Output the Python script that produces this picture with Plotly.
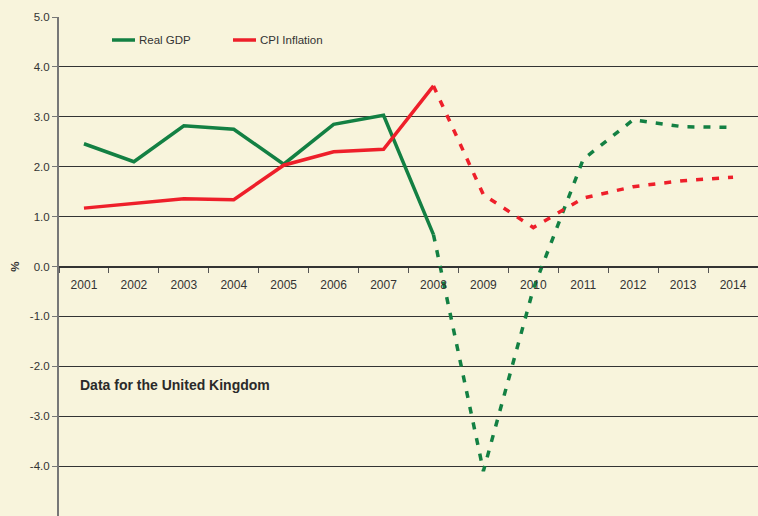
import plotly.graph_objects as go

years = ["2001", "2002", "2003", "2004", "2005", "2006", "2007",
         "2008", "2009", "2010", "2011", "2012", "2013", "2014"]
real_gdp = [2.46, 2.10, 2.82, 2.75, 2.05, 2.85, 3.03,
            0.64, -4.10, -0.45, 2.15, 2.94, 2.80, 2.79]
cpi_inflation = [1.17, 1.27, 1.36, 1.34, 2.03, 2.30, 2.35,
                 3.62, 1.44, 0.78, 1.37, 1.60, 1.72, 1.79]
actual_end = 8  # 2001-2008 actual (solid), 2008-2014 forecast (dashed)
y_ticks = [5, 4, 3, 2, 1, 0, -1, -2, -3, -4, -5]
y_tick_text = ["5.0", "4.0", "3.0", "2.0", "1.0", "0.0", "-1.0", "-2.0", "-3.0", "-4.0", "-5.0"]

GREEN = "#138043"
RED = "#EE1F2A"
BG = "#F8F4DC"
FONT = "Liberation Sans, Arial, sans-serif"

fig = go.Figure()
for name, vals, col in [("Real GDP", real_gdp, GREEN), ("CPI Inflation", cpi_inflation, RED)]:
    fig.add_trace(go.Scatter(x=years[:actual_end], y=vals[:actual_end], mode="lines",
                             line=dict(color=col, width=3.5), name=name,
                             showlegend=False, hoverinfo="skip"))
    fig.add_trace(go.Scatter(x=years[actual_end - 1:], y=vals[actual_end - 1:], mode="lines",
                             line=dict(color=col, width=3.5, dash="7px,9px"), name=name,
                             showlegend=False, hoverinfo="skip"))

# manual legend
def px_x(p):
    return (p - 59) / 699.0

def px_y(p):
    return (516 - p) / 499.0

legend_items = [("Real GDP", GREEN, 112, 135, 137), ("CPI Inflation", RED, 233, 256, 258)]
for label, col, x0, x1, xt in legend_items:
    fig.add_shape(type="line", xref="paper", yref="paper",
                  x0=px_x(x0), x1=px_x(x1), y0=px_y(40), y1=px_y(40),
                  line=dict(color=col, width=3.5))
    fig.add_annotation(xref="paper", yref="paper", x=px_x(xt), y=px_y(40),
                       text=label, showarrow=False, xanchor="left", yanchor="middle",
                       font=dict(family=FONT, size=11.5, color="#333333"))

fig.add_annotation(xref="paper", yref="y", x=px_x(78), y=-2.38,
                   text="<b>Data for the United Kingdom</b>", showarrow=False,
                   xanchor="left", yanchor="middle",
                   font=dict(family=FONT, size=14, color="#2a2a2a"))

fig.update_layout(
    width=758, height=516,
    margin=dict(l=59, r=0, t=17, b=0),
    paper_bgcolor=BG, plot_bgcolor=BG,
    font=dict(family=FONT, size=11.5, color="#333333"),
    showlegend=False,
    xaxis=dict(type="category", range=[-0.5, 13.5], anchor="free", position=0.5,
               showline=True, linecolor="#333333", linewidth=1,
               ticks="outside", tickson="boundaries", ticklen=5, tickcolor="#555555",
               ticklabelstandoff=7,
               showgrid=False, zeroline=False,
               tickfont=dict(family=FONT, size=12, color="#333333"),
               fixedrange=True),
    yaxis=dict(range=[-5, 5], tickvals=y_ticks, ticktext=y_tick_text,
               showgrid=True, gridcolor="#333333", gridwidth=1,
               zeroline=True, zerolinecolor="#333333", zerolinewidth=1,
               showline=True, linecolor="#777777", linewidth=2,
               ticks="outside", ticklen=5, tickcolor="#777777",
               tickfont=dict(family=FONT, size=11.5, color="#333333"),
               title=dict(text="<b>%</b>", standoff=8,
                          font=dict(family=FONT, size=11.5, color="#333333")),
               fixedrange=True),
)

post = ("document.body.style.margin='0';document.body.style.padding='0';"
        "document.body.style.overflow='hidden';"
        "document.body.style.background='" + BG + "';")
fig.write_html("out.html", post_script=post, config={"displayModeBar": False})
